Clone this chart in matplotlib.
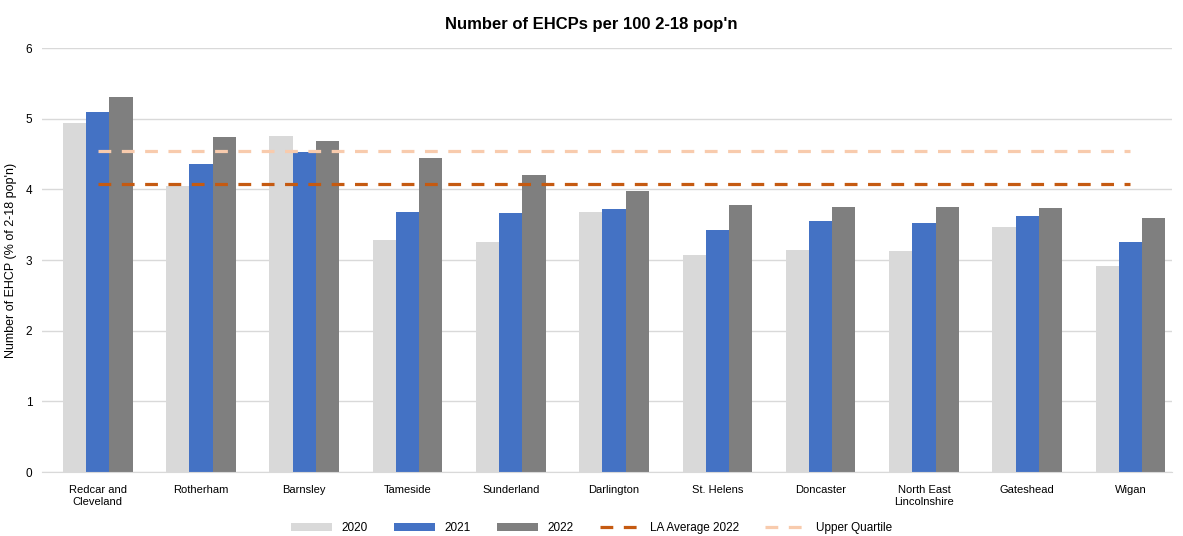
import numpy as np
import matplotlib
matplotlib.use("Agg")
import matplotlib.pyplot as plt

plt.rcParams['font.family'] = ['Liberation Sans', 'DejaVu Sans']

areas = ["Redcar and\nCleveland", "Rotherham", "Barnsley", "Tameside", "Sunderland",
         "Darlington", "St. Helens", "Doncaster", "North East\nLincolnshire", "Gateshead", "Wigan"]
y2020 = [4.94, 4.05, 4.75, 3.28, 3.25, 3.68, 3.07, 3.14, 3.13, 3.47, 2.92]
y2021 = [5.09, 4.36, 4.53, 3.68, 3.66, 3.72, 3.43, 3.55, 3.52, 3.62, 3.25]
y2022 = [5.30, 4.74, 4.68, 4.44, 4.20, 3.98, 3.78, 3.75, 3.75, 3.73, 3.59]
la_average_2022 = 4.08
upper_quartile = 4.54

fig = plt.figure(figsize=(11.83, 5.36), dpi=100)
ax = fig.add_axes([0.0355, 0.1194, 0.955, 0.791])

x = np.arange(len(areas))
w = 0.225
b1 = ax.bar(x - w, y2020, w, color="#d9d9d9", label="2020", zorder=2)
b2 = ax.bar(x, y2021, w, color="#4472c4", label="2021", zorder=2)
b3 = ax.bar(x + w, y2022, w, color="#7f7f7f", label="2022", zorder=2)

l1, = ax.plot(x, [la_average_2022] * len(x), color="#c55a11", lw=2.3,
              dashes=(4, 3.3), label="LA Average 2022", zorder=3)
l2, = ax.plot(x, [upper_quartile] * len(x), color="#f8cbad", lw=2.3,
              dashes=(4, 3.3), label="Upper Quartile", zorder=3)

ax.set_ylim(0, 6)
ax.set_xlim(-0.54, 10.4)
ax.set_yticks(range(7))
ax.set_xticks(x)
ax.set_xticklabels(areas, fontsize=8, linespacing=1.35)
ax.tick_params(axis="y", labelsize=8.5, length=0, pad=7)
ax.tick_params(axis="x", length=0, pad=9)
ax.grid(axis="y", color="#d9d9d9", lw=1, zorder=0)
for s in ["top", "right", "left"]:
    ax.spines[s].set_visible(False)
ax.spines["bottom"].set_color("#d9d9d9")

ax.set_ylabel("Number of EHCP (% of 2-18 pop'n)", fontsize=9)
ax.yaxis.set_label_coords(-0.0225, 0.5)
fig.text(0.5, 0.955, "Number of EHCPs per 100 2-18 pop'n", ha="center", va="center",
         fontsize=12, fontweight="bold")

fig.legend([b1, b2, b3, l1, l2], ["2020", "2021", "2022", "LA Average 2022", "Upper Quartile"],
           loc="center", bbox_to_anchor=(0.5, 0.015), ncol=5, frameon=False,
           fontsize=8.5, handlelength=3.5, columnspacing=2.2)

fig.savefig("out.png", dpi=100)
